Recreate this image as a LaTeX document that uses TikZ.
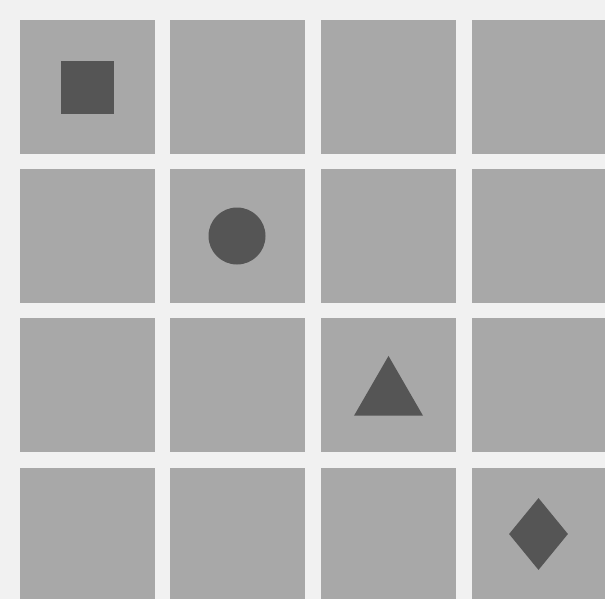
\documentclass[tikz,border=0pt]{standalone}
\usetikzlibrary{shapes.geometric}
\definecolor{paper}{HTML}{F1F1F1}
\definecolor{tile}{HTML}{A8A8A8}
\definecolor{ink}{HTML}{555555}
\begin{document}
\begin{tikzpicture}[x=1pt, y=-1pt, every node/.style={fill=ink, draw=none, inner sep=0pt}]
    \useasboundingbox (0,0) rectangle (605,599);
    \clip (0,0) rectangle (605,599);
    \fill[paper] (0,0) rectangle (605,599);
    % grid of tiles
    \foreach \x in {20,170,321,472}
        \foreach \y in {20,169,318,468}
            \fill[tile] (\x,\y) rectangle ++(135,134);

    \node[rectangle, minimum size=53pt] (sq) at (87.5,87.5) {};
    \node[circle, minimum size=57pt] (ci) at (237,236) {};
    \node[regular polygon, regular polygon sides=3, minimum size=79.7pt] (tri) at (388.5,395.8) {};
    \node[diamond, minimum width=59pt, minimum height=72pt] (dia) at (538.5,534) {};
\end{tikzpicture}
\end{document}
